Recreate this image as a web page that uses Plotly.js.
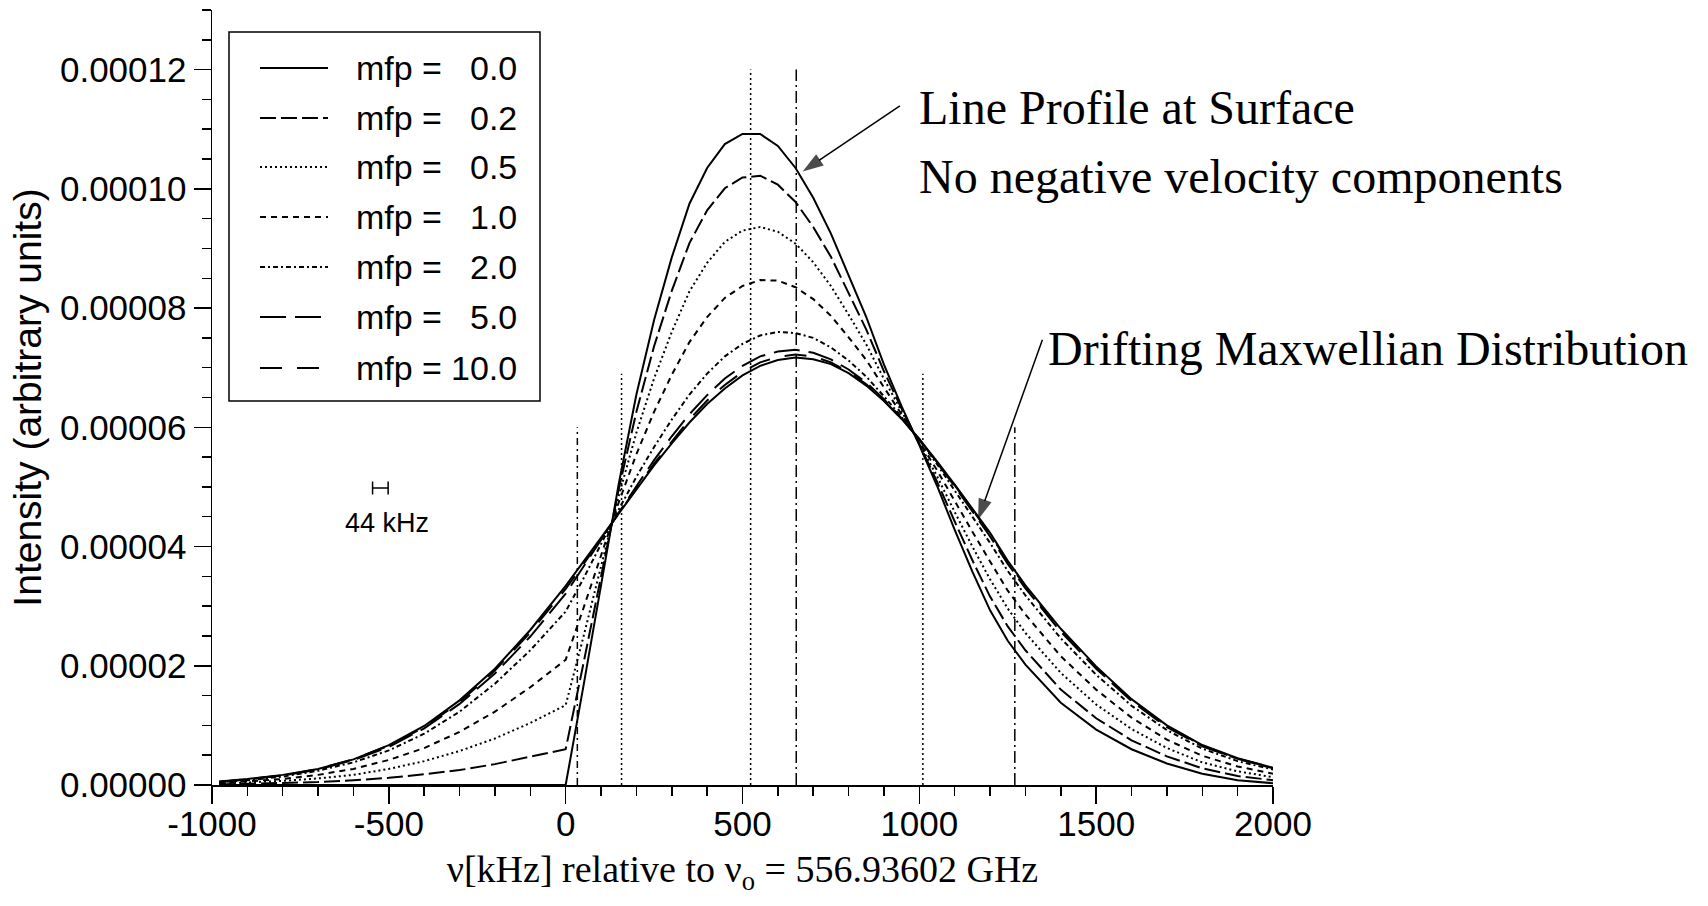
<!DOCTYPE html>
<html>
<head>
<meta charset="utf-8">
<script src="https://cdn.plot.ly/plotly-3.0.1.min.js"></script>
<style>html,body{margin:0;padding:0;background:#fff}#chart{width:1708px;height:906px}</style>
</head>
<body>
<div id="chart"></div>
<script>
// ---- data (intensity in units of 1e-5, arbitrary units) ----
const freq_kHz = [-980,-900,-800,-700,-600,-500,-400,-300,-200,-100,0,50,100,150,200,250,300,350,400,450,500,550,600,650,700,750,800,850,900,950,1000,1050,1100,1150,1200,1250,1300,1400,1500,1600,1700,1800,1900,2000];

const mfp_0_0  = [0,0,0,0,0,0,0,0,0,0,0,1.65,3.35,5.05,6.55,7.80,8.85,9.75,10.35,10.75,10.92,10.92,10.72,10.35,9.85,9.25,8.55,7.85,7.05,6.35,5.70,5.02,4.28,3.58,2.93,2.42,2.02,1.38,0.93,0.60,0.36,0.19,0.08,0.03];
const mfp_0_2  = [0.01,0.02,0.03,0.05,0.08,0.12,0.18,0.25,0.35,0.47,0.60,2.03,3.49,4.96,6.26,7.36,8.29,9.09,9.64,10.01,10.19,10.22,10.07,9.78,9.36,8.86,8.25,7.64,6.94,6.31,5.72,5.09,4.42,3.77,3.16,2.66,2.26,1.60,1.12,0.75,0.48,0.28,0.15,0.08];
const mfp_0_5  = [0.02,0.04,0.07,0.11,0.17,0.27,0.40,0.57,0.78,1.04,1.34,2.48,3.67,4.85,5.91,6.82,7.60,8.28,8.76,9.11,9.30,9.36,9.28,9.08,8.77,8.37,7.89,7.39,6.81,6.27,5.74,5.18,4.58,4.00,3.45,2.96,2.55,1.88,1.35,0.94,0.62,0.38,0.23,0.13];
const mfp_1_0  = [0.03,0.06,0.10,0.17,0.27,0.42,0.62,0.89,1.23,1.64,2.10,2.96,3.85,4.74,5.55,6.26,6.88,7.43,7.85,8.17,8.37,8.47,8.46,8.35,8.15,7.87,7.51,7.13,6.67,6.22,5.76,5.28,4.76,4.25,3.75,3.26,2.86,2.16,1.60,1.13,0.76,0.49,0.31,0.19];
const mfp_2_0  = [0.05,0.08,0.14,0.24,0.38,0.58,0.86,1.23,1.70,2.26,2.91,3.46,4.04,4.62,5.17,5.67,6.13,6.55,6.90,7.19,7.40,7.54,7.60,7.58,7.50,7.34,7.12,6.85,6.52,6.17,5.79,5.38,4.94,4.50,4.06,3.59,3.18,2.46,1.85,1.33,0.92,0.61,0.40,0.26];
const mfp_5_0  = [0.05,0.09,0.16,0.26,0.42,0.64,0.95,1.36,1.87,2.49,3.21,3.65,4.11,4.57,5.02,5.45,5.85,6.22,6.54,6.82,7.03,7.19,7.27,7.30,7.25,7.14,6.97,6.75,6.47,6.15,5.80,5.41,5.01,4.59,4.17,3.71,3.30,2.57,1.95,1.41,0.97,0.65,0.44,0.28];
const mfp_10_0 = [0.05,0.10,0.16,0.27,0.43,0.66,0.97,1.39,1.92,2.56,3.29,3.70,4.13,4.56,4.98,5.39,5.77,6.13,6.45,6.71,6.93,7.09,7.18,7.22,7.19,7.09,6.93,6.72,6.45,6.14,5.80,5.42,5.03,4.62,4.21,3.74,3.33,2.60,1.97,1.43,0.99,0.66,0.44,0.29];
const drifting_maxwellian = [0.06,0.10,0.17,0.27,0.43,0.67,0.99,1.42,1.95,2.60,3.34,3.74,4.14,4.55,4.96,5.36,5.73,6.08,6.39,6.65,6.87,7.03,7.13,7.17,7.14,7.06,6.91,6.70,6.44,6.14,5.80,5.43,5.04,4.64,4.23,3.76,3.35,2.62,1.99,1.44,1.00,0.67,0.45,0.29];

const legendLabels = ['mfp =', 'mfp =', 'mfp =', 'mfp =', 'mfp =', 'mfp =', 'mfp ='];
const legendValues = ['0.0', '0.2', '0.5', '1.0', '2.0', '5.0', '10.0'];

// axis ticks
const xTickVals = [-1000, -500, 0, 500, 1000, 1500, 2000];
const xTickText = ['-1000', '-500', '0', '500', '1000', '1500', '2000'];

// vertical reference lines
const refLineX_kHz = [33, 158, 523, 652, 1010, 1270];
const refLineTop   = [6.0, 6.9, 12.0, 12.0, 6.9, 6.0];

// annotation arrows (tail -> tip)
const arrowTail_kHz = [945, 1348];
const arrowTailY    = [11.39, 7.47];
const arrowTip_kHz  = [670, 1166];
const arrowTipY     = [10.29, 4.45];

// resolution marker
const resolutionCenter_kHz = [-524];
const resolutionY = [4.98];
const resolutionHalfWidth_kHz = [22];
const resolutionLabel = '44 kHz';

const UNIT = 1e-5;
const toY = a => a.map(v => v * UNIT);

// ---- styles ----
const seriesData = [mfp_0_0, mfp_0_2, mfp_0_5, mfp_1_0, mfp_2_0, mfp_5_0, mfp_10_0];
const seriesDash = ['solid', '16px,5px', '2px,3px', '6px,5px', '5px,3px,2px,3px', '26px,9px', '22px,15px'];
const refDash = ['7px,4px,2px,4px', '2px,3px', '2px,3px', '12px,4px,2px,4px', '2px,3px', '12px,4px,2px,4px'];

const traces = [];
seriesData.forEach((s, i) => {
  traces.push({
    x: freq_kHz, y: toY(s), type: 'scatter', mode: 'lines',
    name: legendLabels[i] + ' ' + legendValues[i],
    line: {color: '#000', width: 2, dash: seriesDash[i]},
    hoverinfo: 'skip'
  });
});
traces.push({
  x: freq_kHz, y: toY(drifting_maxwellian), type: 'scatter', mode: 'lines',
  name: 'Drifting Maxwellian', line: {color: '#000', width: 2, dash: 'solid'}, hoverinfo: 'skip'
});
refLineX_kHz.forEach((xv, i) => {
  traces.push({
    x: [xv, xv], y: [0, refLineTop[i] * UNIT], type: 'scatter', mode: 'lines',
    line: {color: '#000', width: 1.5, dash: refDash[i]}, hoverinfo: 'skip', showlegend: false
  });
});
arrowTail_kHz.forEach((xv, i) => {
  traces.push({
    x: [xv, arrowTip_kHz[i]], y: [arrowTailY[i] * UNIT, arrowTipY[i] * UNIT],
    type: 'scatter', mode: 'lines+markers', cliponaxis: false,
    line: {color: '#000', width: 1.5},
    marker: {symbol: 'arrow', size: [0, 22], angleref: 'previous', color: '#000', line: {width: 0}},
    hoverinfo: 'skip', showlegend: false
  });
});
traces.push({
  x: resolutionCenter_kHz, y: toY(resolutionY), type: 'scatter', mode: 'markers',
  marker: {size: 1, color: 'rgba(0,0,0,0)'},
  error_x: {type: 'data', array: resolutionHalfWidth_kHz, symmetric: true, color: '#000', thickness: 1.5, width: 6.5},
  hoverinfo: 'skip', showlegend: false
});

const W = 1708, H = 906;
const plotL = 212, plotR = 1273, plotT = 10, plotB = 785;
const px2paperX = px => (px - plotL) / (plotR - plotL);
const px2paperY = py => (plotB - py) / (plotB - plotT);

const sans = 'Liberation Sans, Arial, sans-serif';
const serif = 'Liberation Serif, Times New Roman, serif';

const shapes = [];
const annotations = [];

// legend box
shapes.push({type: 'rect', xref: 'paper', yref: 'paper',
  x0: px2paperX(229), x1: px2paperX(540), y0: px2paperY(401), y1: px2paperY(32),
  line: {color: '#000', width: 1.5}, fillcolor: 'rgba(0,0,0,0)'});
const rowY = [68, 118, 167, 217, 267, 317, 368];
legendValues.forEach((v, i) => {
  const yp = px2paperY(rowY[i]);
  shapes.push({type: 'line', xref: 'paper', yref: 'paper',
    x0: px2paperX(260), x1: px2paperX(328), y0: yp, y1: yp,
    line: {color: '#000', width: 2, dash: seriesDash[i]}});
  annotations.push({xref: 'paper', yref: 'paper', x: px2paperX(354), y: yp, xanchor: 'left', yanchor: 'middle',
    text: legendLabels[i], showarrow: false, font: {family: sans, size: 34, color: '#000'}});
  annotations.push({xref: 'paper', yref: 'paper', x: px2paperX(519), y: yp, xanchor: 'right', yanchor: 'middle',
    text: v, showarrow: false, font: {family: sans, size: 34, color: '#000'}});
});

// text annotations
annotations.push({x: 993, y: 11.36 * UNIT, xref: 'x', yref: 'y', xanchor: 'left', yanchor: 'middle',
  text: 'Line Profile at Surface', showarrow: false, font: {family: serif, size: 48, color: '#000'}});
annotations.push({x: 993, y: 10.20 * UNIT, xref: 'x', yref: 'y', xanchor: 'left', yanchor: 'middle',
  text: 'No negative velocity components', showarrow: false, font: {family: serif, size: 48, color: '#000'}});
annotations.push({x: 1358, y: 7.33 * UNIT, xref: 'x', yref: 'y', xanchor: 'left', yanchor: 'middle',
  text: 'Drifting Maxwellian Distribution', showarrow: false, font: {family: serif, size: 48, color: '#000'}});
annotations.push({x: -504, y: 4.40 * UNIT, xref: 'x', yref: 'y', xanchor: 'center', yanchor: 'middle',
  text: resolutionLabel, showarrow: false, font: {family: sans, size: 27, color: '#000'}});

const axisCommon = {
  showline: true, linecolor: '#000', linewidth: 1.5, mirror: false,
  ticks: 'outside', ticklen: 17, tickwidth: 1.5, tickcolor: '#000',
  showgrid: false, zeroline: false, automargin: false, fixedrange: true,
  tickfont: {family: sans, size: 35, color: '#000'}
};

const layout = {
  width: W, height: H,
  margin: {l: plotL, r: W - plotR, t: plotT, b: H - plotB, pad: 0},
  paper_bgcolor: '#fff', plot_bgcolor: '#fff',
  showlegend: false,
  xaxis: Object.assign({}, axisCommon, {
    range: [-1000, 2000], tickmode: 'array', tickvals: xTickVals, ticktext: xTickText,
    ticklabelstandoff: -10,
    minor: {dtick: 100, tick0: 0, ticklen: 9, tickwidth: 1.5, tickcolor: '#000', ticks: 'outside', showgrid: false},
    title: {text: 'ν[kHz] relative to ν<sub>o</sub> = 556.93602 GHz', font: {family: serif, size: 38, color: '#000'}, standoff: 14}
  }),
  yaxis: Object.assign({}, axisCommon, {
    range: [0, 0.00013], tick0: 0, dtick: 0.00002, tickformat: '.5f',
    minor: {dtick: 0.000005, ticklen: 9, tickwidth: 1.5, tickcolor: '#000', ticks: 'outside', showgrid: false},
    title: {text: 'Intensity (arbitrary units)', font: {family: sans, size: 39, color: '#000'}, standoff: 6}
  }),
  shapes: shapes,
  annotations: annotations
};

Plotly.newPlot('chart', traces, layout, {displayModeBar: false, staticPlot: true});
</script>
</body>
</html>
